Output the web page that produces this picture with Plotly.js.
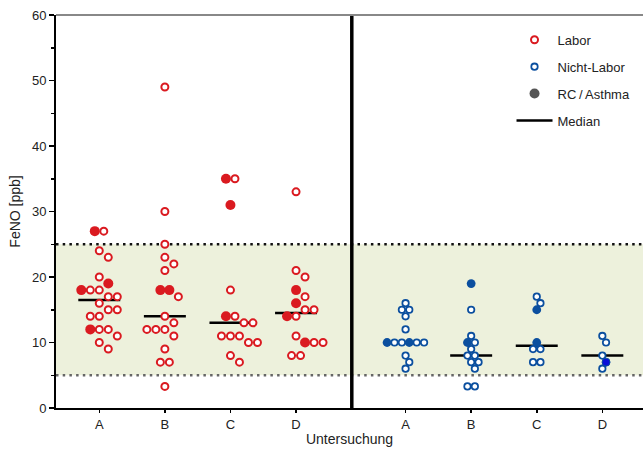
<!DOCTYPE html>
<html>
<head>
<meta charset="utf-8">
<script src="https://cdn.plot.ly/plotly-3.0.1.min.js"></script>
<style>html,body{margin:0;padding:0;background:#fff;}#chart{width:643px;height:453px;}</style>
</head>
<body>
<div id="chart"></div>
<script>
// ---- data ----
const categories = ['A', 'B', 'C', 'D'];
const laborA = [27, 24, 23, 20, 18, 18, 17, 17, 16, 15, 15, 14, 14, 12, 12, 11, 10, 9];
const laborA_rc = [27, 19, 18, 12];
const laborB = [49, 30, 25, 23, 22, 21, 17, 14, 13, 12, 12, 12, 11, 9, 7, 7, 3.3];
const laborB_rc = [18, 18];
const laborC = [35, 18, 14, 13, 13, 11, 11, 11, 10, 10, 8, 7];
const laborC_rc = [35, 31, 14];
const laborD = [33, 21, 20, 17, 15, 15, 14, 11, 10, 10, 8, 8];
const laborD_rc = [18, 16, 14, 10];
const nichtA = [16, 15, 15, 14, 12, 10, 10, 10, 10, 8, 7, 6];
const nichtA_rc = [10, 10];
const nichtB = [15, 11, 10, 9, 8, 8, 7, 7, 6, 3.3, 3.3];
const nichtB_rc = [19, 10];
const nichtC = [17, 16, 9, 9, 7, 7];
const nichtC_rc = [15, 10];
const nichtD = [11, 10, 8, 6];
const nichtD_rc = [7];
const refLow = 5, refHigh = 25;

// ---- layout helpers ----
const W = 643, H = 453;
const M = {l: 56, r: 0, t: 15, b: 45};
const xRange = [0.34, 9.29], yRange = [0, 60];
const pxX = (W - M.l - M.r) / (xRange[1] - xRange[0]);
const pxY = (H - M.t - M.b) / (yRange[1] - yRange[0]);
const leftPos = categories.map((c, i) => 1 + i);
const rightPos = categories.map((c, i) => 5.67 + i);
const dividerX = 4.85;

function median(arr) {
  const s = arr.slice().sort((a, b) => a - b);
  const n = s.length;
  return n % 2 ? s[(n - 1) / 2] : (s[n / 2 - 1] + s[n / 2]) / 2;
}

// simple row-based beeswarm in pixel space
function swarm(openVals, rcVals, s) {
  const pts = openVals.map(v => ({v, f: false})).concat(rcVals.map(v => ({v, f: true})));
  const keys = Array.from(new Set(pts.map(p => p.v))).sort((a, b) => b - a);
  const placed = [];
  const h = s / 2;
  const ks = [0];
  for (let i = 1; i < 30; i++) { ks.push(i, -i); }
  keys.forEach(key => {
    const op = pts.filter(p => p.v === key && !p.f), fp = pts.filter(p => p.v === key && p.f);
    const row = [];
    const tot = op.length + fp.length;
    let oi = 0, fi = 0;
    for (let i = 0; i < tot; i++) {
      const wantF = fi < fp.length && (oi >= op.length || (i % 3 === 0));
      row.push(wantF ? fp[fi++] : op[oi++]);
    }
    const n = row.length;
    const base = row.map((p, i) => (i - (n - 1) / 2) * s);
    const yp = key * pxY;
    for (const k of ks) {
      const sh = k * h;
      const ok = base.every(bx => placed.every(q => {
        const dx = bx + sh - q.x, dy = yp - q.y;
        return dx * dx + dy * dy >= (0.96 * s) * (0.96 * s);
      }));
      if (ok) {
        row.forEach((p, i) => { p.off = (base[i] + sh) / pxX; placed.push({x: base[i] + sh, y: yp}); });
        break;
      }
    }
  });
  return pts;
}

const red = '#da1a20', blue = '#0b4f9f';
const groups = [
  {pos: leftPos[0], o: laborA, f: laborA_rc, side: 'L'},
  {pos: leftPos[1], o: laborB, f: laborB_rc, side: 'L'},
  {pos: leftPos[2], o: laborC, f: laborC_rc, side: 'L'},
  {pos: leftPos[3], o: laborD, f: laborD_rc, side: 'L'},
  {pos: rightPos[0], o: nichtA, f: nichtA_rc, side: 'R'},
  {pos: rightPos[1], o: nichtB, f: nichtB_rc, side: 'R'},
  {pos: rightPos[2], o: nichtC, f: nichtC_rc, side: 'R'},
  {pos: rightPos[3], o: nichtD, f: nichtD_rc, side: 'R'}
];

const medX = [], medY = [];
const lo = {x: [], y: []}, lf = {x: [], y: []}, no = {x: [], y: []}, nf = {x: [], y: []}, nfD = {x: [], y: []};
groups.forEach((g, gi) => {
  const m = median(g.o.concat(g.f));
  medX.push(g.pos - 0.32, g.pos + 0.32, null);
  medY.push(m, m, null);
  const s = g.side === 'L' ? 9 : 7.4;
  const pts = swarm(g.o, g.f, s);
  pts.forEach(p => {
    let tgt;
    if (g.side === 'L') tgt = p.f ? lf : lo;
    else tgt = p.f ? (gi === 7 ? nfD : nf) : no;
    tgt.x.push(g.pos + p.off);
    tgt.y.push(p.v);
  });
});

const traces = [
  {type: 'scatter', mode: 'lines', x: medX, y: medY, name: 'Median', legendgroup: 'd', legendrank: 4,
   line: {color: '#000', width: 2.5}, hoverinfo: 'skip'},
  {type: 'scatter', mode: 'markers', x: lo.x, y: lo.y, name: 'Labor', legendgroup: 'a', legendrank: 1,
   marker: {symbol: 'circle', size: 7, color: '#fff', line: {color: red, width: 2}}},
  {type: 'scatter', mode: 'markers', x: lf.x, y: lf.y, showlegend: false,
   marker: {symbol: 'circle', size: 10, color: red, line: {width: 0}}},
  {type: 'scatter', mode: 'markers', x: no.x, y: no.y, name: 'Nicht-Labor', legendgroup: 'b', legendrank: 2,
   marker: {symbol: 'circle', size: 6.4, color: '#fff', line: {color: blue, width: 1.8}}},
  {type: 'scatter', mode: 'markers', x: nf.x, y: nf.y, showlegend: false,
   marker: {symbol: 'circle', size: 8.8, color: blue, line: {width: 0}}},
  {type: 'scatter', mode: 'markers', x: nfD.x, y: nfD.y, showlegend: false,
   marker: {symbol: 'circle', size: 8, color: '#0a10d8', line: {color: blue, width: 1}}},
  {type: 'scatter', mode: 'markers', x: [null], y: [null], name: 'RC\u2009/\u2009Asthma', legendgroup: 'c', legendrank: 3,
   marker: {symbol: 'circle', size: 10, color: '#555'}}
];

const layout = {
  width: W, height: H,
  margin: M,
  paper_bgcolor: '#fff', plot_bgcolor: '#fff',
  font: {family: 'Liberation Sans, Arial, sans-serif', size: 13, color: '#222'},
  showlegend: true,
  legend: {x: 0.776, y: 0.975, xanchor: 'left', yanchor: 'top', bgcolor: 'rgba(0,0,0,0)',
           itemwidth: 36, traceorder: 'grouped', tracegroupgap: 7, font: {size: 13, color: '#222'}},
  xaxis: {range: xRange, showgrid: false, zeroline: false, showline: true, linecolor: '#000', linewidth: 2,
          tickvals: leftPos.concat(rightPos), ticktext: categories.concat(categories),
          ticks: 'outside', ticklen: 3, tickwidth: 1.5, tickcolor: '#000',
          tickfont: {size: 13, color: '#222'},
          title: {text: 'Untersuchung', font: {size: 14, color: '#222'}, standoff: 4}},
  yaxis: {range: yRange, showgrid: false, zeroline: false, showline: true, linecolor: '#000', linewidth: 2,
          dtick: 10, ticks: 'outside', ticklen: 5, tickwidth: 1.5, tickcolor: '#000',
          minor: {dtick: 5, ticks: 'outside', ticklen: 3, tickwidth: 1.5, tickcolor: '#000'},
          tickfont: {size: 13, color: '#222'},
          title: {text: 'FeNO [ppb]', font: {size: 14, color: '#222'}, standoff: 8}},
  shapes: [
    {type: 'rect', xref: 'paper', yref: 'y', x0: 0, x1: 1, y0: refLow, y1: refHigh,
     fillcolor: '#edf1dc', line: {width: 0}, layer: 'below'},
    {type: 'line', xref: 'paper', yref: 'y', x0: 0, x1: 1, y0: refHigh, y1: refHigh,
     line: {color: '#111', width: 2.5, dash: '2.5px,4.2px'}, layer: 'below'},
    {type: 'line', xref: 'paper', yref: 'y', x0: 0, x1: 1, y0: refLow, y1: refLow,
     line: {color: '#666', width: 2.5, dash: '2.5px,4.2px'}, layer: 'below'},
    {type: 'line', xref: 'x', yref: 'paper', x0: dividerX, x1: dividerX, y0: 0, y1: 1,
     line: {color: '#000', width: 3.5}, layer: 'above'},
    {type: 'line', xref: 'paper', yref: 'paper', x0: 0, x1: 1, y0: 1, y1: 1,
     line: {color: '#888', width: 2}, layer: 'above'}
  ]
};

Plotly.newPlot('chart', traces, layout, {staticPlot: true, displayModeBar: false});
</script>
</body>
</html>
